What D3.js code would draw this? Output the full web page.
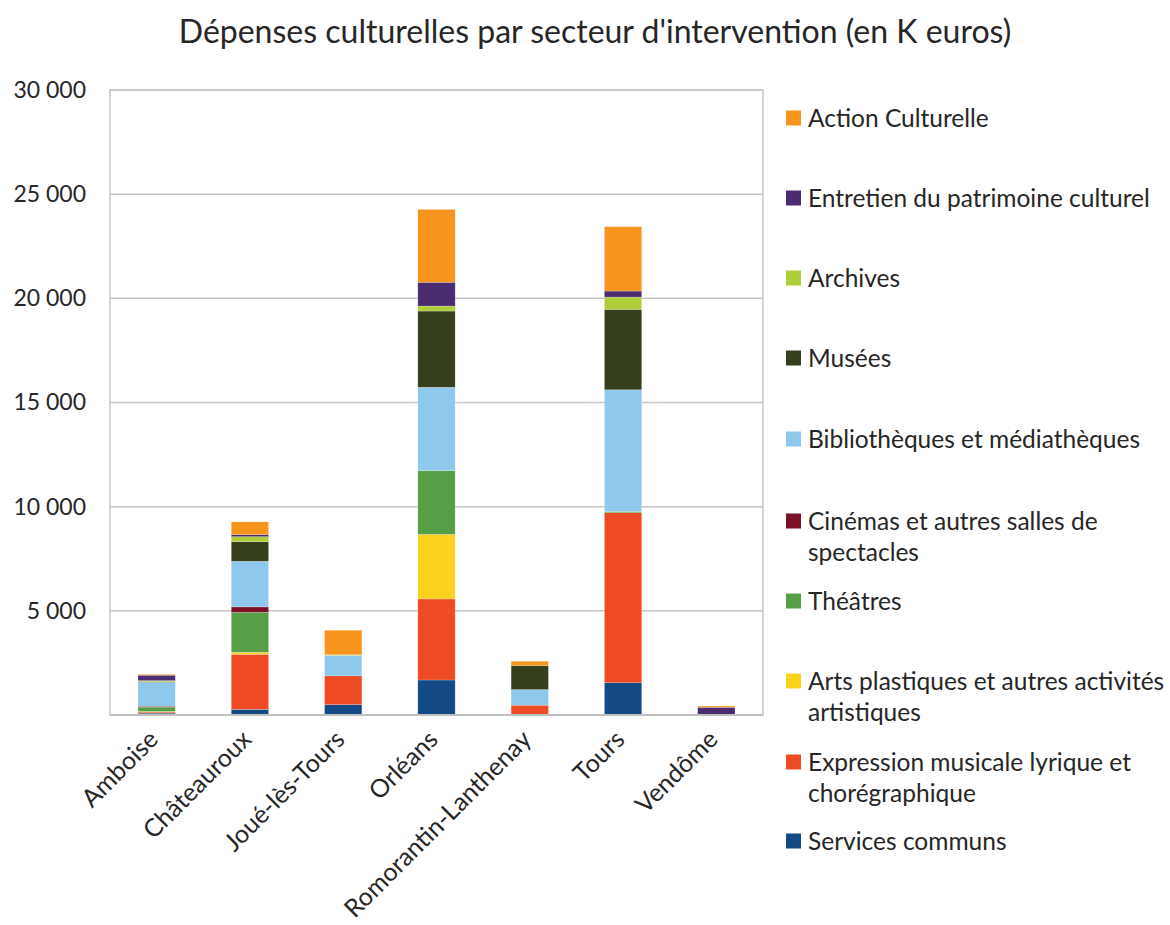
<!DOCTYPE html>
<html>
<head>
<meta charset="utf-8">
<script src="https://cdn.jsdelivr.net/npm/d3@7/dist/d3.min.js"></script>
<style>
  html, body { margin: 0; padding: 0; background: #fff; }
  svg { display: block; font-family: Lato, "Open Sans", sans-serif; }
</style>
</head>
<body>
<svg id="chart" width="1170" height="925"></svg>
<script>
// Communes (x axis)
const cities = ["Amboise", "Châteauroux", "Joué-lès-Tours", "Orléans", "Romorantin-Lanthenay", "Tours", "Vendôme"];

// Spending per sector, in K euros, one value per commune (stacked bottom to top)
const servicesCommuns   = [90, 270, 500, 1680, 0, 1550, 0];
const expressionMusicale = [50, 2640, 1380, 3890, 470, 8160, 0];
const artsPlastiques    = [30, 100, 0, 3100, 0, 0, 0];
const theatres          = [210, 1920, 0, 3060, 0, 60, 0];
const cinemas           = [40, 260, 0, 0, 0, 0, 0];
const bibliotheques     = [1150, 2190, 980, 4000, 750, 5840, 0];
const musees            = [30, 940, 0, 3660, 1150, 3860, 0];
const archives          = [50, 240, 30, 240, 0, 590, 0];
const entretien         = [260, 100, 0, 1140, 0, 290, 370];
const actionCulturelle  = [40, 610, 1180, 3500, 210, 3090, 60];

// Sector names (legend order is the reverse of the stacking order)
const sectorNames = [
  "Services communs",
  "Expression musicale lyrique et chorégraphique",
  "Arts plastiques et autres activités artistiques",
  "Théâtres",
  "Cinémas et autres salles de spectacles",
  "Bibliothèques et médiathèques",
  "Musées",
  "Archives",
  "Entretien du patrimoine culturel",
  "Action Culturelle"
];
const sectorValues = [servicesCommuns, expressionMusicale, artsPlastiques, theatres, cinemas,
                      bibliotheques, musees, archives, entretien, actionCulturelle];
const sectorColors = ["#134a86", "#ee4a24", "#fdd21f", "#579f47", "#7b1126",
                      "#8ec8ec", "#363f1c", "#aecf3a", "#4b2c71", "#f7941d"];

// Legend text lines (wrapped as in the legend box)
const legendLines = {
  "Cinémas et autres salles de spectacles": ["Cinémas et autres salles de", "spectacles"],
  "Arts plastiques et autres activités artistiques": ["Arts plastiques et autres activités", "artistiques"],
  "Expression musicale lyrique et chorégraphique": ["Expression musicale lyrique et", "chorégraphique"]
};

const yTicks = [5000, 10000, 15000, 20000, 25000, 30000];
const yTickLabels = ["5 000", "10 000", "15 000", "20 000", "25 000", "30 000"];

const title = "Dépenses culturelles par secteur d'intervention (en K euros)";

// Build rows for d3.stack
const rows = cities.map((c, i) => {
  const r = { city: c };
  sectorNames.forEach((s, k) => { r[s] = sectorValues[k][i]; });
  return r;
});

const svg = d3.select("#chart");
const plot = { left: 110, right: 763, top: 90, bottom: 715 };

const x = d3.scaleBand().domain(cities).range([plot.left, plot.right])
  .paddingInner(0.6).paddingOuter(0.3);
const y = d3.scaleLinear().domain([0, 30000]).range([plot.bottom, plot.top]);
const color = d3.scaleOrdinal().domain(sectorNames).range(sectorColors);

// Title
svg.append("text")
  .attr("x", 595).attr("y", 43)
  .attr("text-anchor", "middle")
  .attr("font-size", 32)
  .attr("fill", "#262626")
  .text(title);

// Gridlines
svg.append("g")
  .selectAll("line")
  .data(yTicks)
  .join("line")
  .attr("x1", plot.left).attr("x2", plot.right)
  .attr("y1", d => y(d)).attr("y2", d => y(d))
  .attr("stroke", "#c6c6c6").attr("stroke-width", 1.5);

// Plot frame
svg.append("rect")
  .attr("x", plot.left).attr("y", plot.top)
  .attr("width", plot.right - plot.left).attr("height", plot.bottom - plot.top)
  .attr("fill", "none").attr("stroke", "#c6c6c6").attr("stroke-width", 1.5);

// Y axis labels
const yAxis = d3.axisLeft(y).tickValues(yTicks)
  .tickFormat((d, i) => yTickLabels[i]).tickSize(0).tickPadding(24);
const gy = svg.append("g").attr("transform", `translate(${plot.left},0)`).call(yAxis);
gy.select(".domain").remove();
gy.selectAll("text").attr("font-size", 23).attr("fill", "#262626")
  .attr("font-family", "Lato, 'Open Sans', sans-serif");

// Stacked bars
const stack = d3.stack().keys(sectorNames);
const series = stack(rows);
svg.append("g")
  .selectAll("g")
  .data(series)
  .join("g")
  .attr("fill", d => color(d.key))
  .selectAll("rect")
  .data(d => d.map(v => Object.assign(v, { key: d.key })))
  .join("rect")
  .attr("x", d => x(d.data.city))
  .attr("width", x.bandwidth())
  .attr("y", d => y(d[1]))
  .attr("height", d => y(d[0]) - y(d[1]))
  .attr("stroke", "rgba(255,255,255,0.35)")
  .attr("stroke-width", 0.6);

// Baseline
svg.append("line")
  .attr("x1", plot.left).attr("x2", plot.right)
  .attr("y1", plot.bottom).attr("y2", plot.bottom)
  .attr("stroke", "#bfbfbf").attr("stroke-width", 2);

// X axis labels, rotated
const xAxis = d3.axisBottom(x).tickSize(0).tickPadding(0);
const gx = svg.append("g").attr("transform", `translate(0,${plot.bottom})`).call(xAxis);
gx.select(".domain").remove();
gx.selectAll("text")
  .attr("font-size", 25).attr("fill", "#262626")
  .attr("font-family", "Lato, 'Open Sans', sans-serif")
  .attr("text-anchor", "end")
  .attr("dy", null).attr("y", 0)
  .attr("transform", "translate(3,26) rotate(-45)");

// Legend
const legendY = {
  "Action Culturelle": 118,
  "Entretien du patrimoine culturel": 198,
  "Archives": 278,
  "Musées": 358,
  "Bibliothèques et médiathèques": 439,
  "Cinémas et autres salles de spectacles": 521,
  "Théâtres": 601,
  "Arts plastiques et autres activités artistiques": 681,
  "Expression musicale lyrique et chorégraphique": 762,
  "Services communs": 841
};
const legend = svg.append("g");
const items = legend.selectAll("g")
  .data(sectorNames.slice().reverse())
  .join("g")
  .attr("transform", d => `translate(786,${legendY[d]})`);
items.append("rect")
  .attr("x", 0).attr("y", -7.5).attr("width", 15).attr("height", 15)
  .attr("fill", d => color(d));
items.append("text")
  .attr("x", 22).attr("y", 0)
  .attr("font-size", 24.5).attr("fill", "#262626")
  .selectAll("tspan")
  .data(d => legendLines[d] || [d])
  .join("tspan")
  .attr("x", 22)
  .attr("dy", (d, i) => i === 0 ? "0.35em" : 31)
  .text(d => d);
</script>
</body>
</html>
